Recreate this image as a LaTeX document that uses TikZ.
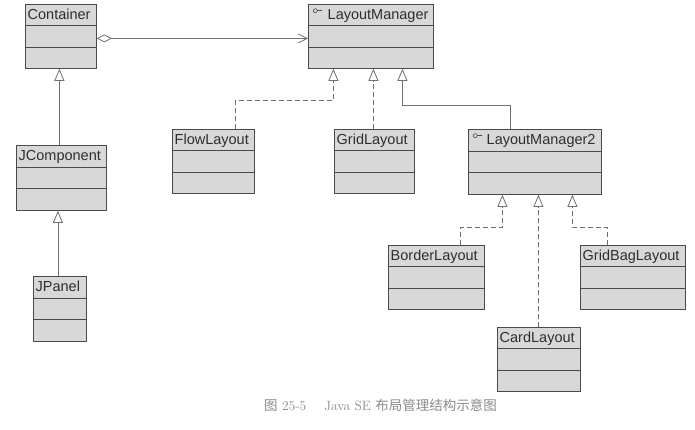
\documentclass[tikz,border=0pt]{standalone}
\usepackage{fontspec}
\newfontfamily\umlfont{Liberation Sans}
\newfontfamily\cjkfont{Noto Sans CJK SC}
\usetikzlibrary{arrows.meta,calc}
\definecolor{boxfill}{HTML}{D8D8D8}
\definecolor{boxline}{HTML}{4A4A4A}
\definecolor{conn}{HTML}{707070}
\definecolor{txt}{HTML}{2E2E2E}
\definecolor{capcol}{HTML}{8C8C8C}
\tikzset{
  classbox/.style={draw=boxline, fill=boxfill, line width=0.8pt, inner sep=0pt, rectangle},
  sepline/.style={draw=boxline, line width=0.8pt},
  classlabel/.style={anchor=base west, inner sep=0pt, text=txt, font=\umlfont\fontsize{14.5}{16}\selectfont},
  gen/.style={draw=conn, line width=0.8pt, -{Triangle[open, width=10pt, length=12pt]}},
  realz/.style={gen, dash pattern=on 5pt off 3pt},
  aggr/.style={draw=conn, line width=0.8pt, {Diamond[open, length=15pt, width=8pt]}-{Straight Barb[length=9pt, width=9pt]}},
  iconline/.style={draw=boxline, line width=0.6pt}
}
\newcommand{\umlclass}[7]{%
  \node[classbox, anchor=north west, minimum width={#4pt-#2pt}, minimum height={#5pt-#3pt}] (#1) at (#2,#3) {};
  \draw[sepline] ($(#1.north west)!1/3!(#1.south west)$) -- ($(#1.north east)!1/3!(#1.south east)$);
  \draw[sepline] ($(#1.north west)!2/3!(#1.south west)$) -- ($(#1.north east)!2/3!(#1.south east)$);
  \node[classlabel] (#1-label) at ($(#1.north west)+(#7,15.5)$) {#6};
}
\newcommand{\ifaceicon}[1]{%
  \draw[iconline] ($(#1.north west)+(7.3,6.7)$) circle (2pt);
  \draw[iconline] ($(#1.north west)+(9.3,6.7)$) -- ($(#1.north west)+(14,6.7)$);
}
\begin{document}
\begin{tikzpicture}[x=1pt, y=-1pt]
\useasboundingbox[fill=white] (0,0) rectangle (695,429);
\umlclass{container}{25}{4}{96}{68}{Container}{2.5}
\umlclass{lm}{308}{4}{433}{68}{LayoutManager}{19.5}
\ifaceicon{lm}
\umlclass{jcomp}{16}{145}{106}{210}{JComponent}{2.5}
\umlclass{jpanel}{33}{276}{86}{341}{JPanel}{2.5}
\umlclass{flow}{172}{129}{254}{193}{FlowLayout}{2.5}
\umlclass{grid}{334}{129}{414}{193}{GridLayout}{2.5}
\umlclass{lm2}{468}{129}{601}{194}{LayoutManager2}{18.5}
\ifaceicon{lm2}
\umlclass{border}{388}{245}{484}{309}{BorderLayout}{2.5}
\umlclass{gb}{580}{245}{685}{309}{GridBagLayout}{2.5}
\umlclass{card}{497}{327}{580}{391}{CardLayout}{2.5}

% aggregation
\draw[aggr] ([yshift=-2pt]container.east) -- ([yshift=-2pt]container.east -| lm.west);
% generalization
\draw[gen] ([xshift=-2pt]jcomp.north) -- ([xshift=-2pt]jcomp.north |- container.south);
\draw[gen] ([xshift=-2pt]jpanel.north) -- ([xshift=-2pt]jpanel.north |- jcomp.south);
\draw[gen] ([xshift=-24.5pt]lm2.north) |- ($(lm.south)+(31.5,37)$) -- ([xshift=31.5pt]lm.south);
% realization
\draw[realz] ([xshift=22pt]flow.north) |- ($(lm.south)+(-37.5,32)$) -- ([xshift=-37.5pt]lm.south);
\draw[realz] ([xshift=-1pt]grid.north) -- ([xshift=-1pt]grid.north |- lm.south);
\draw[realz] ([xshift=24pt]border.north) |- ($(lm2.south)+(-32.5,33)$) -- ([xshift=-32.5pt]lm2.south);
\draw[realz] ([xshift=-0.5pt]card.north) -- ([xshift=-0.5pt]card.north |- lm2.south);
\draw[realz] ([xshift=-25.5pt]gb.north) |- ($(lm2.south)+(37.5,33)$) -- ([xshift=37.5pt]lm2.south);

\node[text=capcol, font=\fontsize{13.5}{15}\selectfont, inner sep=0pt] (caption) at (380.5,405) {{\cjkfont 图}\ 25-5\quad\ Java SE {\cjkfont 布局管理结构示意图}};
\end{tikzpicture}
\end{document}
